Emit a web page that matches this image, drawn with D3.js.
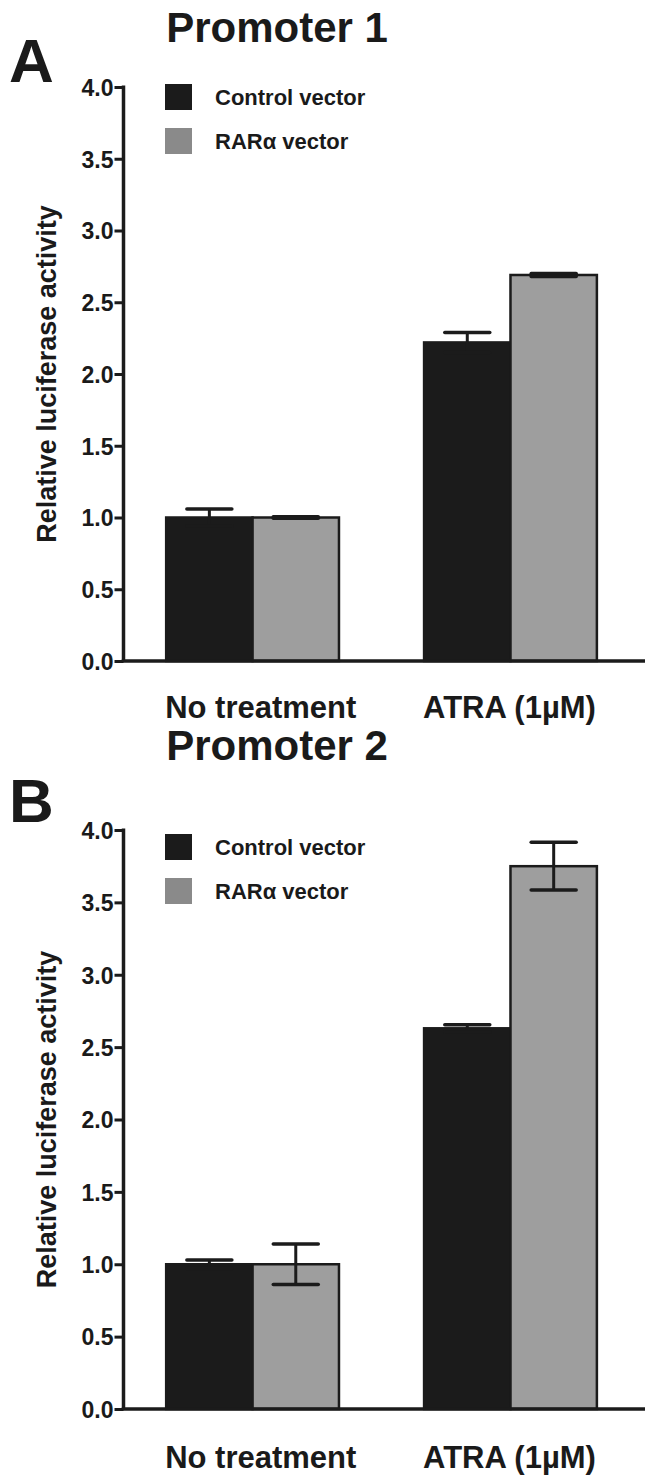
<!DOCTYPE html>
<html>
<head>
<meta charset="utf-8">
<script src="https://cdn.jsdelivr.net/npm/d3@7"></script>
<style>
  html, body { margin: 0; padding: 0; background: #fff; }
  svg { display: block; }
  text { font-family: "Liberation Sans", Arial, Helvetica, sans-serif; font-weight: bold; fill: #1a1a1a; }
</style>
</head>
<body>
<div id="chart"></div>
<script>
// ---- Data ----
const categories = ["No treatment", "ATRA (1µM)"];
const seriesNames = ["Control vector", "RARα vector"];
const yTicks = [0.0, 0.5, 1.0, 1.5, 2.0, 2.5, 3.0, 3.5, 4.0];

const panelTitles = ["Promoter 1", "Promoter 2"];
const panelLetters = ["A", "B"];

// Promoter 1
const p1Control = [1.00, 2.22];
const p1ControlErr = [0.06, 0.07];
const p1Rar = [1.00, 2.69];
const p1RarErr = [0.005, 0.01];

// Promoter 2
const p2Control = [1.00, 2.63];
const p2ControlErr = [0.03, 0.025];
const p2Rar = [1.00, 3.75];
const p2RarErr = [0.14, 0.165];

// ---- Styles ----
const W = 654, H = 1482;
const dark = "#1b1b1b";
const barFills = ["#1b1b1b", "#9e9e9e"];
const legendFills = ["#1b1b1b", "#8a8a8a"];

const svg = d3.select("#chart").append("svg").attr("width", W).attr("height", H);

function buildRows(ctrl, ctrlErr, rar, rarErr) {
  return categories.map((c, i) => ({
    cat: c,
    vals: [
      { s: seriesNames[0], v: ctrl[i], e: ctrlErr[i] },
      { s: seriesNames[1], v: rar[i], e: rarErr[i] }
    ]
  }));
}

const panels = [
  { rows: buildRows(p1Control, p1ControlErr, p1Rar, p1RarErr), y0: 661, y1: 87,
    titleY: 42, letterY: 82, legendY: 84, xLabelY: 718 },
  { rows: buildRows(p2Control, p2ControlErr, p2Rar, p2RarErr), y0: 1409, y1: 830,
    titleY: 760, letterY: 822, legendY: 834, xLabelY: 1468 }
];

const axisX = 123.5, axisRight = 645;

panels.forEach((p, pi) => {
  const g = svg.append("g");
  const y = d3.scaleLinear().domain([0, 4]).range([p.y0, p.y1]);
  const x0 = d3.scaleBand().domain(categories).range([axisX, axisRight])
    .paddingInner(0.33).paddingOuter(0.176).align(0.47);
  const x1 = d3.scaleBand().domain(seriesNames).range([0, x0.bandwidth()]).padding(0);
  const color = d3.scaleOrdinal().domain(seriesNames).range(barFills);

  // Title
  g.append("text").attr("x", 277).attr("y", p.titleY).attr("text-anchor", "middle")
    .style("font-size", "42px").text(panelTitles[pi]);
  // Panel letter
  g.append("text").attr("x", 9).attr("y", p.letterY).style("font-size", "62px").text(panelLetters[pi]);

  // Legend
  const lg = g.append("g").attr("transform", `translate(165,${p.legendY})`);
  seriesNames.forEach((s, i) => {
    lg.append("rect").attr("x", 0).attr("y", i * 44).attr("width", 27).attr("height", 26)
      .attr("fill", legendFills[i]);
    lg.append("text").attr("x", 50).attr("y", i * 44 + 21).style("font-size", "22px").text(s);
  });

  // Bars
  const grp = g.append("g").selectAll("g").data(p.rows).join("g")
    .attr("transform", d => `translate(${x0(d.cat)},0)`);
  grp.selectAll("rect").data(d => d.vals).join("rect")
    .attr("x", d => x1(d.s))
    .attr("y", d => y(d.v))
    .attr("width", x1.bandwidth())
    .attr("height", d => y(0) - y(d.v))
    .attr("fill", d => color(d.s))
    .attr("stroke", dark).attr("stroke-width", 2.5);

  // Error bars
  const capHalf = 22.5;
  const eb = grp.selectAll("g.err").data(d => d.vals).join("g").attr("class", "err")
    .attr("transform", d => `translate(${x1(d.s) + x1.bandwidth() / 2},0)`);
  eb.append("line").attr("x1", 0).attr("x2", 0)
    .attr("y1", d => y(d.v - d.e)).attr("y2", d => y(d.v + d.e))
    .attr("stroke", dark).attr("stroke-width", 3);
  eb.append("line").attr("x1", -capHalf).attr("x2", capHalf)
    .attr("y1", d => y(d.v + d.e)).attr("y2", d => y(d.v + d.e))
    .attr("stroke", dark).attr("stroke-width", 3.5).attr("stroke-linecap", "round");
  eb.append("line").attr("x1", -capHalf).attr("x2", capHalf)
    .attr("y1", d => y(d.v - d.e)).attr("y2", d => y(d.v - d.e))
    .attr("stroke", dark).attr("stroke-width", 3.5).attr("stroke-linecap", "round");

  // Y axis
  const yAxis = d3.axisLeft(y).tickValues(yTicks).tickFormat(d3.format(".1f"))
    .tickSize(9).tickPadding(1);
  const ya = g.append("g").attr("transform", `translate(${axisX},0)`).call(yAxis);
  ya.attr("font-size", null).attr("font-family", null);
  ya.select(".domain").attr("d", `M0,${p.y1 - 1.5}V${p.y0}`).attr("stroke", dark).attr("stroke-width", 3.5);
  ya.selectAll(".tick line").attr("stroke", dark).attr("stroke-width", 3);
  ya.selectAll(".tick text").style("font-size", "23px")
    .attr("fill", dark).attr("dy", "0.36em");

  // X axis line
  g.append("line").attr("x1", axisX - 1.75).attr("x2", axisRight)
    .attr("y1", y(0)).attr("y2", y(0)).attr("stroke", dark).attr("stroke-width", 3.5);

  // X category labels
  g.append("g").selectAll("text").data(categories).join("text")
    .attr("x", d => x0(d) - 1).attr("y", p.xLabelY)
    .style("font-size", "31px").text(d => d);

  // Y axis title
  const midY = (p.y0 + p.y1) / 2;
  g.append("text").attr("transform", `translate(56,${midY}) rotate(-90)`)
    .attr("text-anchor", "middle").style("font-size", "27px").text("Relative luciferase activity");
});
</script>
</body>
</html>
